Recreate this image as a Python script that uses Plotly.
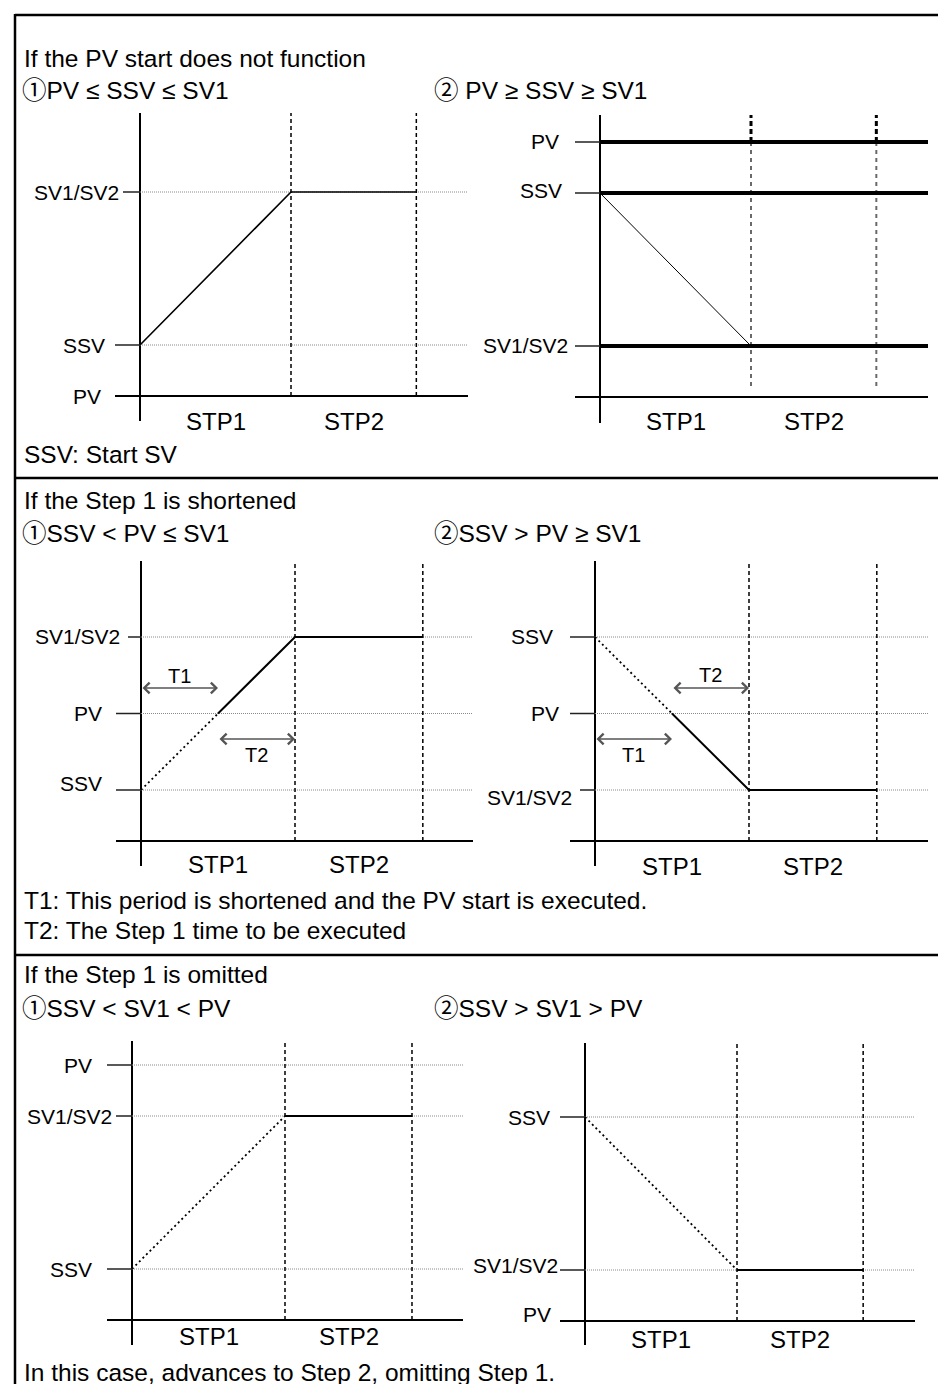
import plotly.graph_objects as go

W, H = 946, 1384
FONT = "Liberation Sans, Arial, Helvetica, Noto Sans CJK JP, sans-serif"

# ---------------- data ----------------
# time axis: STP1 runs 0-10, STP2 runs 10-18.3 (time units)
step_bounds = [0, 10, 18.3]
step_names = ["STP1", "STP2"]

# level names / values per panel (value units, 0 = bottom axis)
p1_names = ["SV1/SV2", "SSV", "PV"]
p1_vals = [8, 2, 0]
p2_names = ["PV", "SSV", "SV1/SV2"]
p2_vals = [10, 8, 2]
p3_names = ["SV1/SV2", "PV", "SSV"]
p3_vals = [8, 5, 2]
p4_names = ["SSV", "PV", "SV1/SV2"]
p4_vals = [8, 5, 2]
p5_names = ["PV", "SV1/SV2", "SSV"]
p5_vals = [10, 8, 2]
p6_names = ["SSV", "SV1/SV2", "PV"]
p6_vals = [8, 2, 0]

# executed (solid) and skipped (dotted) program segments
p1_run_t = [0, 10, 18.3]
p1_run_v = [2, 8, 8]
p2_run_t = [0, 10]
p2_run_v = [8, 2]
p3_skip_t = [0, 5]
p3_skip_v = [2, 5]
p3_run_t = [5, 10, 18.3]
p3_run_v = [5, 8, 8]
p4_skip_t = [0, 5]
p4_skip_v = [8, 5]
p4_run_t = [5, 10, 18.3]
p4_run_v = [5, 2, 2]
p5_skip_t = [0, 10]
p5_skip_v = [2, 8]
p5_run_t = [10, 18.3]
p5_run_v = [8, 8]
p6_skip_t = [0, 10]
p6_skip_v = [8, 2]
p6_run_t = [10, 18.3]
p6_run_v = [2, 2]

# time at which the ramp meets PV (PV start point) in the shortened cases
pv_start_t = [5, 5]
period_names = ["T1", "T2"]

# texts
s1_title = "If the PV start does not function"
s1_case1 = "①PV ≤ SSV ≤ SV1"
s1_case2 = "② PV ≥ SSV ≥ SV1"
s1_note = "SSV: Start SV"
s2_title = "If the Step 1 is shortened"
s2_case1 = "①SSV < PV ≤ SV1"
s2_case2 = "②SSV > PV ≥ SV1"
s2_note1 = "T1: This period is shortened and the PV start is executed."
s2_note2 = "T2: The Step 1 time to be executed"
s3_title = "If the Step 1 is omitted"
s3_case1 = "①SSV < SV1 < PV"
s3_case2 = "②SSV > SV1 > PV"
s3_note = "In this case, advances to Step 2, omitting Step 1."

# ---------------- layout geometry (pixels) ----------------
KY = 25.5
geom = [
    dict(L=107, R=460, T=105, B=413, x0=132, x1=283, base=388, stp_y=413, axw=1.5),
    dict(L=567, R=920, T=107, B=415, x0=592, x1=743, base=389, stp_y=413, axw=2),
    dict(L=108, R=465, T=553, B=858, x0=133, x1=287, base=833, stp_y=857, axw=1.5),
    dict(L=562, R=920, T=553, B=858, x0=587, x1=741, base=833, stp_y=858, axw=1.5),
    dict(L=99, R=455, T=1033, B=1337, x0=124, x1=277, base=1312, stp_y=1328, axw=1.5),
    dict(L=552, R=907, T=1035, B=1337, x0=577, x1=729, base=1313, stp_y=1331, axw=1.5),
]
# per level: (tick start px, label right edge px, label vertical shift px downward)
tick_specs = [
    {"SV1/SV2": (115, 113, 0), "SSV": (107, 99, 0), "PV": (107, 95, 0)},
    {"PV": (567, 553, 0), "SSV": (567, 556, -2), "SV1/SV2": (567, 562, 0)},
    {"SV1/SV2": (120, 114, 0), "PV": (108, 96, 0), "SSV": (108, 96, -6)},
    {"SSV": (562, 547, 0), "PV": (562, 553, 0), "SV1/SV2": (572, 566, 8)},
    {"PV": (99, 86, 0), "SV1/SV2": (108, 106, 0), "SSV": (99, 86, 0)},
    {"SSV": (552, 544, 0), "SV1/SV2": (552, 552, -5), "PV": (552, 545, -7)},
]
levels = [(p1_names, p1_vals), (p2_names, p2_vals), (p3_names, p3_vals),
          (p4_names, p4_vals), (p5_names, p5_vals), (p6_names, p6_vals)]

fig = go.Figure()
annotations = []
shapes = []
axes_layout = {}

common = dict(showgrid=False, showticklabels=False, ticks="", showline=False,
              zeroline=True, zerolinecolor="black", fixedrange=True)

for i, g in enumerate(geom, start=1):
    kx = (g["x1"] - g["x0"]) / (step_bounds[1] - step_bounds[0])
    g["kx"] = kx
    g["xr"] = [(g["L"] - g["x0"]) / kx, (g["R"] - g["x0"]) / kx]
    g["yr"] = [(g["base"] - g["B"]) / KY, (g["base"] - g["T"]) / KY]
    sfx = "" if i == 1 else str(i)
    g["xn"], g["yn"] = "x" + sfx, "y" + sfx
    axes_layout["xaxis" + sfx] = dict(domain=[g["L"] / W, g["R"] / W], range=g["xr"],
                                      anchor="y" + sfx, zerolinewidth=g["axw"], **common)
    axes_layout["yaxis" + sfx] = dict(domain=[1 - g["B"] / H, 1 - g["T"] / H], range=g["yr"],
                                      anchor="x" + sfx, zerolinewidth=g["axw"], **common)


def seg(g, t, v, color="black", width=1.5, dash="solid"):
    fig.add_trace(go.Scatter(x=t, y=v, mode="lines",
                             line=dict(color=color, width=width, dash=dash),
                             xaxis=g["xn"], yaxis=g["yn"], hoverinfo="skip",
                             showlegend=False))


for i, g in enumerate(geom, start=1):
    names, vals = levels[i - 1]
    # dotted level gridlines
    if i != 2:
        for v in vals:
            if v != 0:
                seg(g, [0, g["xr"][1]], [v, v], color="#8a8a8a", width=1, dash="1px,1px")
    # step boundaries
    for t in step_bounds[1:]:
        if i == 2:
            seg(g, [t, t], [0.43, max(vals)], color="#6a6a6a", width=2, dash="4px,4px")
            seg(g, [t, t], [max(vals), g["yr"][1]], color="black", width=3, dash="5px,3px")
        else:
            seg(g, [t, t], [0, g["yr"][1]], color="black", width=1.5, dash="4px,3px")
    # level ticks and labels
    for name, v in zip(names, vals):
        ts, lr, dy = tick_specs[i - 1][name]
        if v != 0:
            seg(g, [(ts - g["x0"]) / g["kx"], 0], [v, v], color="#222", width=1.5)
        annotations.append(dict(text=name, xref="paper", x=lr / W, xanchor="right",
                                yref=g["yn"], y=v, yanchor="middle", yshift=-dy,
                                showarrow=False, font=dict(size=21, color="black", family=FONT)))
    # step names
    for k, sname in enumerate(step_names):
        annotations.append(dict(text=sname, xref=g["xn"],
                                x=(step_bounds[k] + step_bounds[k + 1]) / 2,
                                yref="paper", y=1 - g["stp_y"] / H, yanchor="middle",
                                xanchor="center", showarrow=False,
                                font=dict(size=24, color="black", family=FONT)))

G1, G2, G3, G4, G5, G6 = geom

# panel 1
seg(G1, p1_run_t, p1_run_v, width=1.6)
# panel 2: held levels drawn thick, ramp thin
for v in p2_vals:
    seg(G2, [0, G2["xr"][1]], [v, v], color="black", width=4)
seg(G2, p2_run_t, p2_run_v, width=1)
# panel 3
seg(G3, p3_skip_t, p3_skip_v, width=1.8, dash="2px,3px")
seg(G3, p3_run_t, p3_run_v, width=2)
# panel 4
seg(G4, p4_skip_t, p4_skip_v, width=1.8, dash="2px,3px")
seg(G4, p4_run_t, p4_run_v, width=2)
# panel 5
seg(G5, p5_skip_t, p5_skip_v, width=1.8, dash="2px,3px")
seg(G5, p5_run_t, p5_run_v, width=2)
# panel 6
seg(G6, p6_skip_t, p6_skip_v, width=1.8, dash="2px,3px")
seg(G6, p6_run_t, p6_run_v, width=2)

# T1 / T2 arrows (row value, label shift px up)
def period_arrow(g, t0, t1, row, label, lshift):
    annotations.append(dict(x=t1, y=row, ax=t0, ay=row, xref=g["xn"], yref=g["yn"],
                            axref=g["xn"], ayref=g["yn"], text="", showarrow=True,
                            arrowhead=4, startarrowhead=4, arrowside="end+start",
                            arrowsize=1.4, startarrowsize=1.4, arrowwidth=1.5,
                            arrowcolor="#555"))
    annotations.append(dict(x=(t0 + t1) / 2, y=row, xref=g["xn"], yref=g["yn"],
                            text=label, showarrow=False, yshift=lshift,
                            font=dict(size=20, color="black", family=FONT)))

period_arrow(G3, step_bounds[0], pv_start_t[0], 6.0, period_names[0], 12)
period_arrow(G3, pv_start_t[0], step_bounds[1], 4.0, period_names[1], -16)
period_arrow(G4, pv_start_t[1], step_bounds[1], 6.0, period_names[1], 13)
period_arrow(G4, step_bounds[0], pv_start_t[1], 4.0, period_names[0], -16)

# section texts
text_pos = [
    (s1_title, 14, 50), (s1_case1, 12, 82), (s1_case2, 424, 82), (s1_note, 14, 447),
    (s2_title, 14, 492), (s2_case1, 12, 525), (s2_case2, 424, 525),
    (s2_note1, 14, 892), (s2_note2, 14, 922),
    (s3_title, 14, 967), (s3_case1, 12, 1000), (s3_case2, 424, 1000), (s3_note, 14, 1364),
]
for txt, px, py in text_pos:
    annotations.append(dict(text=txt, xref="paper", yref="paper", x=px / W, y=1 - py / H,
                            xanchor="left", yanchor="middle", showarrow=False,
                            font=dict(size=24.5, color="black", family=FONT)))

# frame and section dividers
def hline(py):
    shapes.append(dict(type="line", xref="paper", yref="paper", x0=7 / W, x1=1.02,
                       y0=1 - py / H, y1=1 - py / H, line=dict(color="black", width=2.5)))

shapes.append(dict(type="line", xref="paper", yref="paper", x0=7 / W, x1=7 / W,
                   y0=1 - 6 / H, y1=-0.02, line=dict(color="black", width=2.5)))
hline(7)
hline(470)
hline(947)

fig.update_layout(width=W, height=H, margin=dict(l=0, r=0, t=0, b=0),
                  paper_bgcolor="white", plot_bgcolor="white", template="none",
                  showlegend=False, annotations=annotations, shapes=shapes,
                  font=dict(family=FONT), **axes_layout)

fig.write_html("out.html")
